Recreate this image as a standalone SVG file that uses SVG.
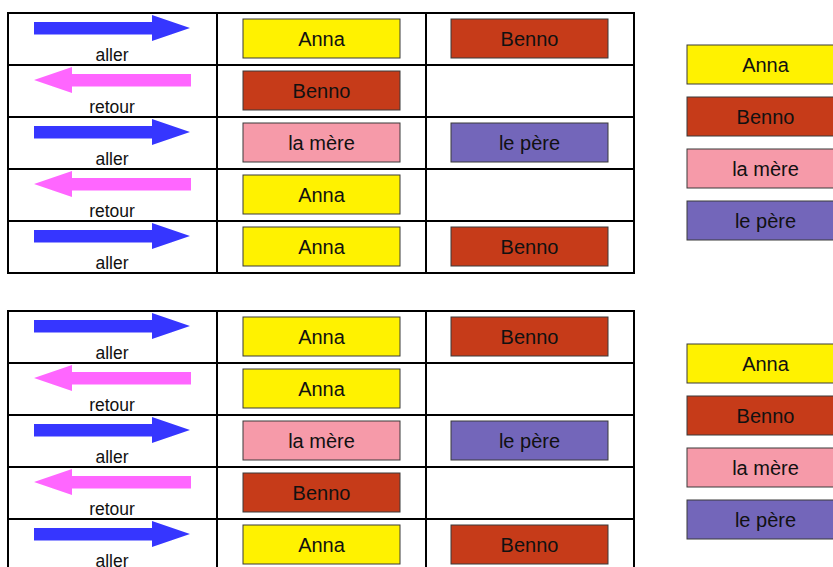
<svg xmlns="http://www.w3.org/2000/svg" xmlns:xlink="http://www.w3.org/1999/xlink" width="833" height="567" viewBox="0 0 833 567">
<style>
.grid{fill:none;stroke:#000;stroke-width:2}
.box{stroke:#3a3a3a;stroke-width:1}
.anna{fill:#fff200}
.benno{fill:#c63b19}
.mere{fill:#f69aa9}
.pere{fill:#7366ba}
.t{font-family:"Liberation Sans",Arial,sans-serif;font-size:20px;fill:#111;text-anchor:middle}
.lab{font-family:"Liberation Sans",Arial,sans-serif;font-size:17.5px;fill:#111;text-anchor:middle}
.aller{fill:#3636ff}
.retour{fill:#ff66ff}
</style>
<defs>
<polygon id="ar" class="aller" points="34,9 152,9 152,2 190,15 152,28 152,21.5 34,21.5"/>
<polygon id="al" class="retour" points="191,9 72,9 72,2 34,15 72,28 72,21.5 191,21.5"/>
</defs>
<g id="table-top">
<rect class="grid" x="8" y="13" width="626" height="260"/>
<path class="grid" d="M217,13V273M426,13V273M8,65H634M8,117H634M8,169H634M8,221H634"/>
</g>
<g id="table-bottom">
<rect class="grid" x="8" y="311" width="626" height="270"/>
<path class="grid" d="M217,311V581M426,311V581M8,363H634M8,415H634M8,467H634M8,519H634"/>
</g>
<g id="connectors">
<use xlink:href="#ar" y="13"/><use xlink:href="#al" y="65"/><use xlink:href="#ar" y="117"/><use xlink:href="#al" y="169"/><use xlink:href="#ar" y="221"/>
<use xlink:href="#ar" y="311"/><use xlink:href="#al" y="363"/><use xlink:href="#ar" y="415"/><use xlink:href="#al" y="467"/><use xlink:href="#ar" y="519"/>
</g>
<g id="labels">
<text class="lab" x="112" y="61">aller</text>
<text class="lab" x="112" y="113">retour</text>
<text class="lab" x="112" y="165">aller</text>
<text class="lab" x="112" y="217">retour</text>
<text class="lab" x="112" y="269">aller</text>
<text class="lab" x="112" y="359">aller</text>
<text class="lab" x="112" y="411">retour</text>
<text class="lab" x="112" y="463">aller</text>
<text class="lab" x="112" y="515">retour</text>
<text class="lab" x="112" y="567">aller</text>
</g>
<g id="t1-r1-anna"><rect class="box anna" x="243" y="19" width="157" height="39"/><text class="t" x="321.5" y="45.5">Anna</text></g>
<g id="t1-r1-benno"><rect class="box benno" x="451" y="19" width="157" height="39"/><text class="t" x="529.5" y="45.5">Benno</text></g>
<g id="t1-r2-benno"><rect class="box benno" x="243" y="71" width="157" height="39"/><text class="t" x="321.5" y="97.5">Benno</text></g>
<g id="t1-r3-mere"><rect class="box mere" x="243" y="123" width="157" height="39"/><text class="t" x="321.5" y="149.5">la mère</text></g>
<g id="t1-r3-pere"><rect class="box pere" x="451" y="123" width="157" height="39"/><text class="t" x="529.5" y="149.5">le père</text></g>
<g id="t1-r4-anna"><rect class="box anna" x="243" y="175" width="157" height="39"/><text class="t" x="321.5" y="201.5">Anna</text></g>
<g id="t1-r5-anna"><rect class="box anna" x="243" y="227" width="157" height="39"/><text class="t" x="321.5" y="253.5">Anna</text></g>
<g id="t1-r5-benno"><rect class="box benno" x="451" y="227" width="157" height="39"/><text class="t" x="529.5" y="253.5">Benno</text></g>
<g id="t2-r1-anna"><rect class="box anna" x="243" y="317" width="157" height="39"/><text class="t" x="321.5" y="343.5">Anna</text></g>
<g id="t2-r1-benno"><rect class="box benno" x="451" y="317" width="157" height="39"/><text class="t" x="529.5" y="343.5">Benno</text></g>
<g id="t2-r2-anna"><rect class="box anna" x="243" y="369" width="157" height="39"/><text class="t" x="321.5" y="395.5">Anna</text></g>
<g id="t2-r3-mere"><rect class="box mere" x="243" y="421" width="157" height="39"/><text class="t" x="321.5" y="447.5">la mère</text></g>
<g id="t2-r3-pere"><rect class="box pere" x="451" y="421" width="157" height="39"/><text class="t" x="529.5" y="447.5">le père</text></g>
<g id="t2-r4-benno"><rect class="box benno" x="243" y="473" width="157" height="39"/><text class="t" x="321.5" y="499.5">Benno</text></g>
<g id="t2-r5-anna"><rect class="box anna" x="243" y="525" width="157" height="39"/><text class="t" x="321.5" y="551.5">Anna</text></g>
<g id="t2-r5-benno"><rect class="box benno" x="451" y="525" width="157" height="39"/><text class="t" x="529.5" y="551.5">Benno</text></g>
<g id="legend1-anna"><rect class="box anna" x="687" y="45" width="157" height="39"/><text class="t" x="765.5" y="71.5">Anna</text></g>
<g id="legend1-benno"><rect class="box benno" x="687" y="97" width="157" height="39"/><text class="t" x="765.5" y="123.5">Benno</text></g>
<g id="legend1-mere"><rect class="box mere" x="687" y="149" width="157" height="39"/><text class="t" x="765.5" y="175.5">la mère</text></g>
<g id="legend1-pere"><rect class="box pere" x="687" y="201" width="157" height="39"/><text class="t" x="765.5" y="227.5">le père</text></g>
<g id="legend2-anna"><rect class="box anna" x="687" y="344" width="157" height="39"/><text class="t" x="765.5" y="370.5">Anna</text></g>
<g id="legend2-benno"><rect class="box benno" x="687" y="396" width="157" height="39"/><text class="t" x="765.5" y="422.5">Benno</text></g>
<g id="legend2-mere"><rect class="box mere" x="687" y="448" width="157" height="39"/><text class="t" x="765.5" y="474.5">la mère</text></g>
<g id="legend2-pere"><rect class="box pere" x="687" y="500" width="157" height="39"/><text class="t" x="765.5" y="526.5">le père</text></g>
</svg>
